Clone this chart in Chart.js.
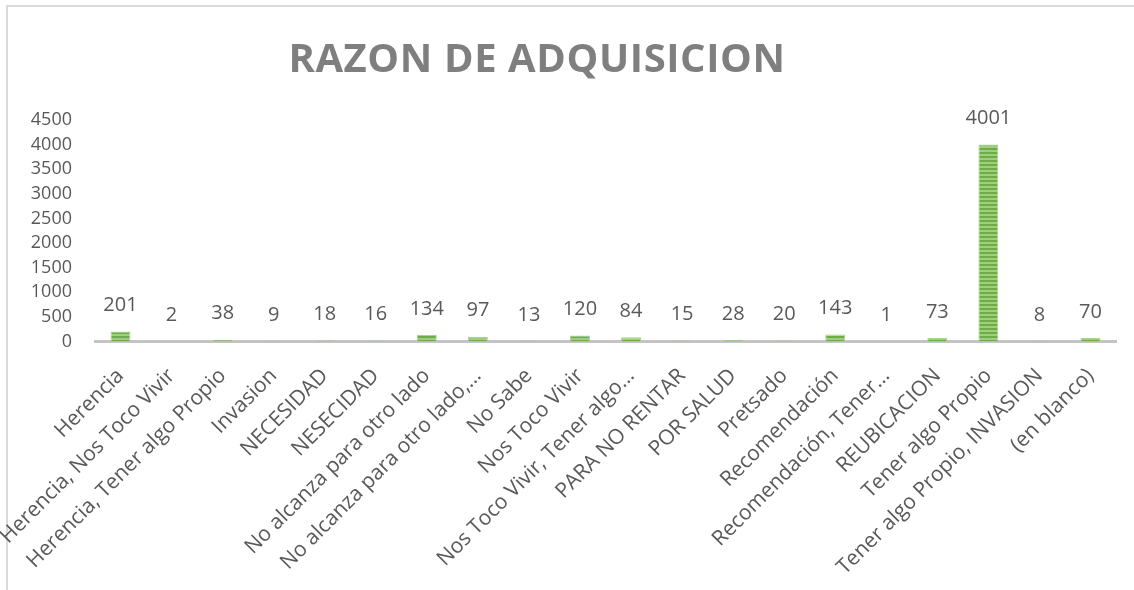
<!DOCTYPE html>
<html>
<head>
<meta charset="utf-8">
<title>Razon de adquisicion</title>
<script src="https://cdn.jsdelivr.net/npm/chart.js@4.4.1/dist/chart.umd.min.js"></script>
<style>
    html, body { margin: 0; padding: 0; background: #ffffff; }
    #wrap { position: relative; width: 1134px; height: 590px; }
</style>
</head>
<body>
<div id="wrap">
    <canvas id="RazonChart" width="1134" height="590"></canvas>
</div>
<script>
var chartTitle = "RAZON DE ADQUISICION";

var categories = [
    "Herencia",
    "Herencia, Nos Toco Vivir",
    "Herencia, Tener algo Propio",
    "Invasion",
    "NECESIDAD",
    "NESECIDAD",
    "No alcanza para otro lado",
    "No alcanza para otro lado,…",
    "No Sabe",
    "Nos Toco Vivir",
    "Nos Toco Vivir, Tener algo…",
    "PARA NO RENTAR",
    "POR SALUD",
    "Pretsado",
    "Recomendación",
    "Recomendación, Tener…",
    "REUBICACION",
    "Tener algo Propio",
    "Tener algo Propio, INVASION",
    "(en blanco)"
];

var totals = [201, 2, 38, 9, 18, 16, 134, 97, 13, 120, 84, 15, 28, 20, 143, 1, 73, 4001, 8, 70];

var yTicks = [0, 500, 1000, 1500, 2000, 2500, 3000, 3500, 4000, 4500];

var textColor = '#595959';
var fontName = '"Open Sans", "DejaVu Sans", sans-serif';

// striped green fill for the bars
function MakeStripes() {
    var tile = document.createElement('canvas');
    tile.width = 4;
    tile.height = 4;
    var c = tile.getContext('2d');
    c.fillStyle = '#a0cd82';
    c.fillRect(0, 0, 4, 4);
    c.fillStyle = '#6cae45';
    c.fillRect(0, 0, 4, 2);
    return c.createPattern(tile, 'repeat');
}

// frame + title drawn straight on the canvas
var frameAndTitle = {
    id: 'frameAndTitle',
    beforeDraw: function (chart) {
        var ctx = chart.ctx;
        ctx.save();
        ctx.fillStyle = '#ffffff';
        ctx.fillRect(0, 0, chart.width, chart.height);
        ctx.strokeStyle = '#d9d9d9';
        ctx.lineWidth = 2;
        ctx.strokeRect(7, 6, chart.width + 20, chart.height + 20);
        ctx.restore();
    },
    afterDraw: function (chart) {
        var ctx = chart.ctx;
        ctx.save();
        ctx.fillStyle = '#7f7f7f';
        ctx.font = '700 40px ' + fontName;
        ctx.letterSpacing = '0.6px';
        ctx.textAlign = 'center';
        ctx.textBaseline = 'alphabetic';
        ctx.fillText(chartTitle, 537, 72);
        ctx.restore();
    }
};

// value printed above each bar
var barValues = {
    id: 'barValues',
    afterDatasetsDraw: function (chart) {
        var ctx = chart.ctx;
        var meta = chart.getDatasetMeta(0);
        var values = chart.data.datasets[0].data;
        ctx.save();
        ctx.fillStyle = textColor;
        ctx.font = '20px ' + fontName;
        ctx.textAlign = 'center';
        ctx.textBaseline = 'middle';
        meta.data.forEach(function (bar, i) {
            ctx.fillText(String(values[i]), bar.x, bar.y - 26);
        });
        ctx.restore();
    }
};

var ctx = document.getElementById('RazonChart');
var razonChart = new Chart(ctx, {
    type: 'bar',
    data: {
        labels: categories,
        datasets: [{
            label: 'Total',
            data: totals,
            backgroundColor: MakeStripes(),
            borderColor: '#a9d18e',
            borderWidth: 1,
            borderSkipped: 'bottom',
            categoryPercentage: 1,
            barPercentage: 0.39
        }]
    },
    options: {
        responsive: false,
        animation: false,
        devicePixelRatio: 1,
        layout: {
            padding: { left: 0, right: 18, top: 120, bottom: 0 }
        },
        plugins: {
            legend: { display: false },
            title: { display: false },
            tooltip: { enabled: false }
        },
        scales: {
            x: {
                offset: true,
                grid: { display: false },
                border: { display: true, color: '#c4c4c4', width: 3 },
                ticks: {
                    color: textColor,
                    font: { family: fontName, size: 21 },
                    minRotation: 45,
                    maxRotation: 45,
                    autoSkip: false,
                    padding: 14
                },
                afterFit: function (axis) {
                    axis.height = 248.5;
                }
            },
            y: {
                min: yTicks[0],
                max: yTicks[yTicks.length - 1],
                grid: { display: false, drawTicks: false },
                border: { display: false },
                afterBuildTicks: function (axis) {
                    axis.ticks = yTicks.map(function (v) { return { value: v }; });
                },
                ticks: {
                    color: textColor,
                    font: { family: fontName, size: 18 },
                    padding: 23,
                    callback: function (value) { return String(value); }
                },
                afterFit: function (axis) {
                    axis.width = 95;
                }
            }
        }
    },
    plugins: [frameAndTitle, barValues]
});
</script>
</body>
</html>
